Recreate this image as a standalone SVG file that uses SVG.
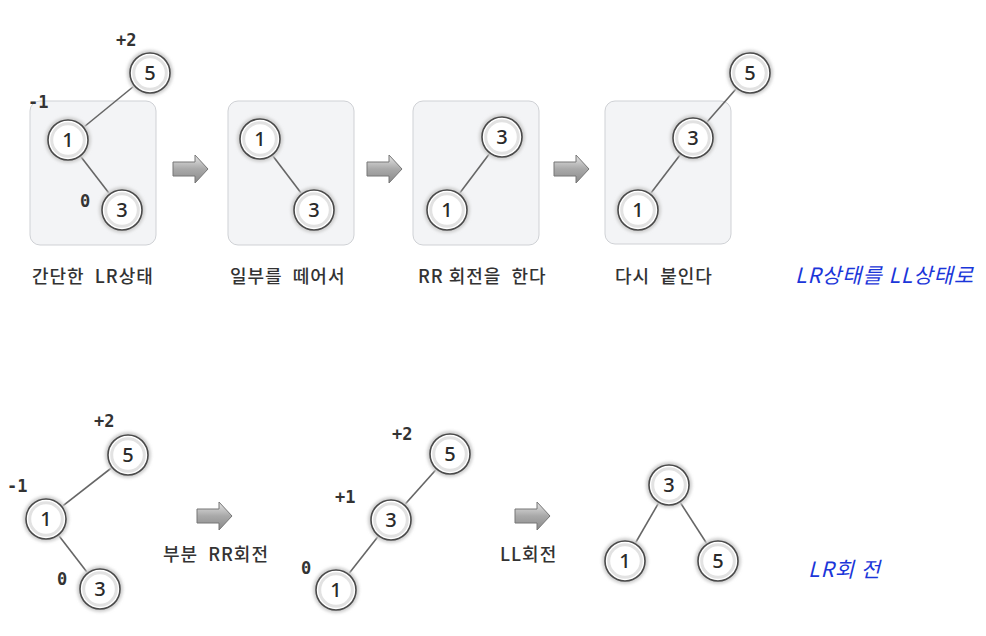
<svg xmlns="http://www.w3.org/2000/svg" width="986" height="636" viewBox="0 0 986 636">
<defs>
<filter id="glow" x="-50%" y="-50%" width="200%" height="200%"><feGaussianBlur stdDeviation="1.5"/></filter>
<linearGradient id="ag" x1="0" y1="0" x2="0" y2="1">
<stop offset="0" stop-color="#e6e6e6"/><stop offset="0.5" stop-color="#a9a9a9"/><stop offset="1" stop-color="#8a8a8a"/>
</linearGradient>
<g id="nd">
<circle r="23" fill="#cfcfcf" filter="url(#glow)"/>
<circle r="20" fill="#fff" stroke="#4a4a4a" stroke-width="1.6"/>
<circle r="16.3" fill="none" stroke="#e2e2e2" stroke-width="3"/>
</g>
<path id="arr" d="M0,7 H22 V0 L35,14 L22,28 V21 H0 Z" fill="url(#ag)" stroke="#777" stroke-width="1"/>
</defs>
<style>
.box{fill:#f3f4f6;stroke:#cfd1d5;stroke-width:1}
.e{stroke:#666;stroke-width:1.6;fill:none}
.n{font-family:"Noto Sans","Noto Sans CJK KR",sans-serif;font-size:20px;font-weight:500;fill:#2a2a2a;text-anchor:middle}
.b{font-family:"DejaVu Sans Mono",monospace;font-weight:bold;font-size:17px;fill:#333}
.l{font-family:"Noto Sans CJK KR","Noto Sans",sans-serif;font-size:18px;font-weight:500;letter-spacing:1px;fill:#333;white-space:pre}
.h{font-family:"Noto Sans CJK KR",sans-serif;font-style:italic;font-size:21px;letter-spacing:1px;fill:#1b36d9;white-space:pre}
</style>
<rect class="box" x="30" y="101" width="126" height="144" rx="10"/>
<rect class="box" x="228" y="101" width="126" height="144" rx="10"/>
<rect class="box" x="413" y="101" width="126" height="144" rx="10"/>
<rect class="box" x="605" y="101" width="126" height="143" rx="10"/>
<g id="connectors">
<line class="e" x1="150" y1="73" x2="68" y2="140"/>
<line class="e" x1="68" y1="140" x2="122" y2="210"/>
<line class="e" x1="260" y1="139" x2="314" y2="210"/>
<line class="e" x1="502" y1="137" x2="447" y2="210"/>
<line class="e" x1="750" y1="73" x2="693" y2="138"/>
<line class="e" x1="693" y1="138" x2="638" y2="210"/>
<line class="e" x1="128" y1="455" x2="46" y2="519"/>
<line class="e" x1="46" y1="519" x2="100" y2="589"/>
<line class="e" x1="450" y1="454" x2="391" y2="520"/>
<line class="e" x1="391" y1="520" x2="336" y2="590"/>
<line class="e" x1="669" y1="485" x2="625" y2="561"/>
<line class="e" x1="669" y1="485" x2="718" y2="561"/>
</g>
<g id="arrows">
<use href="#arr" x="173" y="155"/>
<use href="#arr" x="367" y="155"/>
<use href="#arr" x="554" y="155"/>
<use href="#arr" x="197" y="502"/>
<use href="#arr" x="515" y="502"/>
</g>
<g id="t1n5"><use href="#nd" x="150" y="73"/><text class="n" x="150" y="80">5</text></g>
<g id="t1n1"><use href="#nd" x="68" y="140"/><text class="n" x="68" y="147">1</text></g>
<g id="t1n3"><use href="#nd" x="122" y="210"/><text class="n" x="122" y="217">3</text></g>
<g id="t2n1"><use href="#nd" x="260" y="139"/><text class="n" x="260" y="146">1</text></g>
<g id="t2n3"><use href="#nd" x="314" y="210"/><text class="n" x="314" y="217">3</text></g>
<g id="t3n3"><use href="#nd" x="502" y="137"/><text class="n" x="502" y="144">3</text></g>
<g id="t3n1"><use href="#nd" x="447" y="210"/><text class="n" x="447" y="217">1</text></g>
<g id="t4n5"><use href="#nd" x="750" y="73"/><text class="n" x="750" y="80">5</text></g>
<g id="t4n3"><use href="#nd" x="693" y="138"/><text class="n" x="693" y="145">3</text></g>
<g id="t4n1"><use href="#nd" x="638" y="210"/><text class="n" x="638" y="217">1</text></g>
<g id="b1n5"><use href="#nd" x="128" y="455"/><text class="n" x="128" y="462">5</text></g>
<g id="b1n1"><use href="#nd" x="46" y="519"/><text class="n" x="46" y="526">1</text></g>
<g id="b1n3"><use href="#nd" x="100" y="589"/><text class="n" x="100" y="596">3</text></g>
<g id="b2n5"><use href="#nd" x="450" y="454"/><text class="n" x="450" y="461">5</text></g>
<g id="b2n3"><use href="#nd" x="391" y="520"/><text class="n" x="391" y="527">3</text></g>
<g id="b2n1"><use href="#nd" x="336" y="590"/><text class="n" x="336" y="597">1</text></g>
<g id="b3n3"><use href="#nd" x="669" y="485"/><text class="n" x="669" y="492">3</text></g>
<g id="b3n1"><use href="#nd" x="625" y="561"/><text class="n" x="625" y="568">1</text></g>
<g id="b3n5"><use href="#nd" x="718" y="561"/><text class="n" x="718" y="568">5</text></g>
<g id="factors">
<text class="b" x="116" y="46">+2</text>
<text class="b" x="28" y="108">-1</text>
<text class="b" x="80" y="207">0</text>
<text class="b" x="94" y="427">+2</text>
<text class="b" x="7" y="492">-1</text>
<text class="b" x="57" y="585">0</text>
<text class="b" x="392" y="440">+2</text>
<text class="b" x="335" y="503">+1</text>
<text class="b" x="301" y="574">0</text>
</g>
<g id="labels">
<text class="l" x="32" y="283">간단한  LR상태</text>
<text class="l" x="230" y="283">일부를  떼어서</text>
<text class="l" x="418" y="283">RR 회전을  한다</text>
<text class="l" x="615" y="283">다시  붙인다</text>
<text class="l" x="163" y="561">부분  RR회전</text>
<text class="l" x="500" y="561">LL회전</text>
<text class="h" x="795" y="283">LR상태를 LL상태로</text>
<text class="h" x="808" y="577">LR회 전</text>
</g>
</svg>
